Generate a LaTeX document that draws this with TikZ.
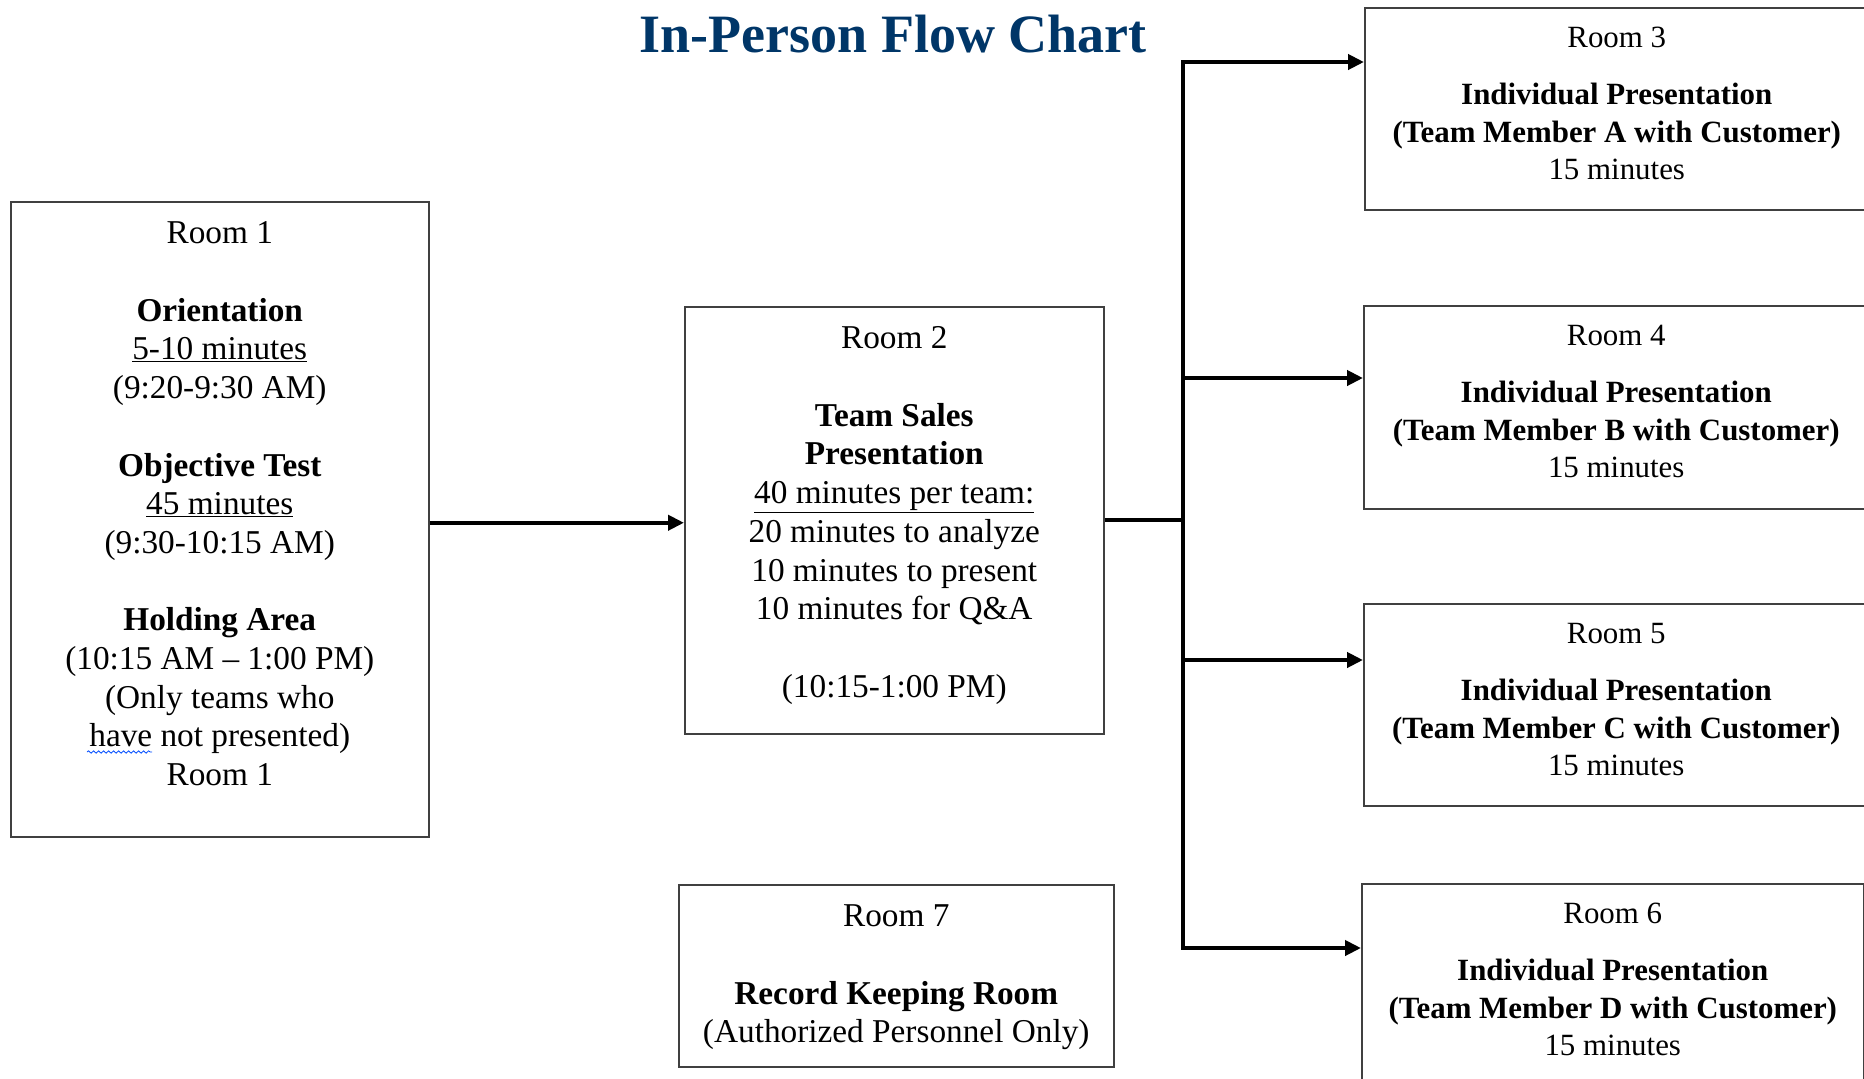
\documentclass[tikz,border=0pt]{standalone}
\usepackage{fontspec}
\setmainfont{Liberation Serif}
\usetikzlibrary{arrows.meta,decorations.pathmorphing}
\definecolor{titleblue}{RGB}{0,54,104}
\newcommand{\roomtext}[3]{\parbox[t][#2][t]{#1}{\centering\strut #3}}
\newcommand{\mainsize}{\fontsize{33.3pt}{38.7pt}\selectfont}
\newcommand{\sidesize}{\fontsize{30.9pt}{37.5pt}\selectfont}
\begin{document}
\begin{tikzpicture}[x=1pt,y=-1pt,
	room/.style={draw=black!75, line width=1.5pt, inner xsep=0pt, inner ysep=15pt, anchor=north west, font=\mainsize},
	side/.style={room, inner ysep=13pt, font=\sidesize},
	flow/.style={line width=4pt, -{Triangle[length=16pt,width=15pt]}},
	trunk/.style={line width=4pt, line cap=rect}]
	\clip (0,0) rectangle (1864,1079);
	\node[font=\bfseries\fontsize{54pt}{60pt}\selectfont, text=titleblue, anchor=base] (title) at (893,52) {In-Person Flow Chart};
	% left column and middle
	\node[room] (r1) at (10,201) {\roomtext{418pt}{605pt}{Room 1\\[\baselineskip]
		\textbf{Orientation}\\ \underline{5-10 minutes}\\ (9:20-9:30 AM)\\[\baselineskip]
		\textbf{Objective Test}\\ \underline{45 minutes}\\ (9:30-10:15 AM)\\[\baselineskip]
		\textbf{Holding Area}\\ (10:15 AM -- 1:00 PM)\\ (Only teams who\\ have not presented)\\ Room 1}};
	\node[room] (r2) at (684,306) {\roomtext{419pt}{397pt}{Room 2\\[\baselineskip]
		\textbf{Team Sales}\\ \textbf{Presentation}\\ \underline{40 minutes per team:}\\
		20 minutes to analyze\\ 10 minutes to present\\ 10 minutes for Q\&A\\[\baselineskip]
		(10:15-1:00 PM)}};
	\node[room] (r7) at (678,884) {\roomtext{435pt}{152pt}{Room 7\\[\baselineskip]
		\textbf{Record Keeping Room}\\ (Authorized Personnel Only)}};
	% right column
	\node[side] (r3) at (1364,7) {\roomtext{504pt}{176pt}{Room 3\\[20pt]
		\textbf{Individual Presentation}\\ \textbf{(Team Member A with Customer)}\\ 15 minutes}};
	\node[side] (r4) at (1363,305) {\roomtext{505pt}{177pt}{Room 4\\[20pt]
		\textbf{Individual Presentation}\\ \textbf{(Team Member B with Customer)}\\ 15 minutes}};
	\node[side] (r5) at (1363,603) {\roomtext{505pt}{176pt}{Room 5\\[20pt]
		\textbf{Individual Presentation}\\ \textbf{(Team Member C with Customer)}\\ 15 minutes}};
	\node[side] (r6) at (1361,883) {\roomtext{502pt}{181pt}{Room 6\\[20pt]
		\textbf{Individual Presentation}\\ \textbf{(Team Member D with Customer)}\\ 15 minutes}};
	% spell check mark
	\draw[blue!70!cyan, line width=0.8pt, decorate, decoration={snake, amplitude=1.2pt, segment length=5pt}] (87,752) -- (152,752);
	% connectors
	\coordinate (b3) at (1183,62);
	\coordinate (b4) at (1183,378);
	\coordinate (b5) at (1183,660);
	\coordinate (b6) at (1183,948);
	\draw[trunk] (b3) -- (b6);
	\draw[flow] ([yshift=-3.5pt]r1.east) -- ([yshift=-3.5pt]r1.east -| r2.west);
	\draw[trunk, line cap=butt] (r2.east) -- (r2.east -| b3);
	\foreach \r in {3,...,6}
		\draw[flow] (b\r) -- (b\r -| r\r.west);
\end{tikzpicture}
\end{document}
